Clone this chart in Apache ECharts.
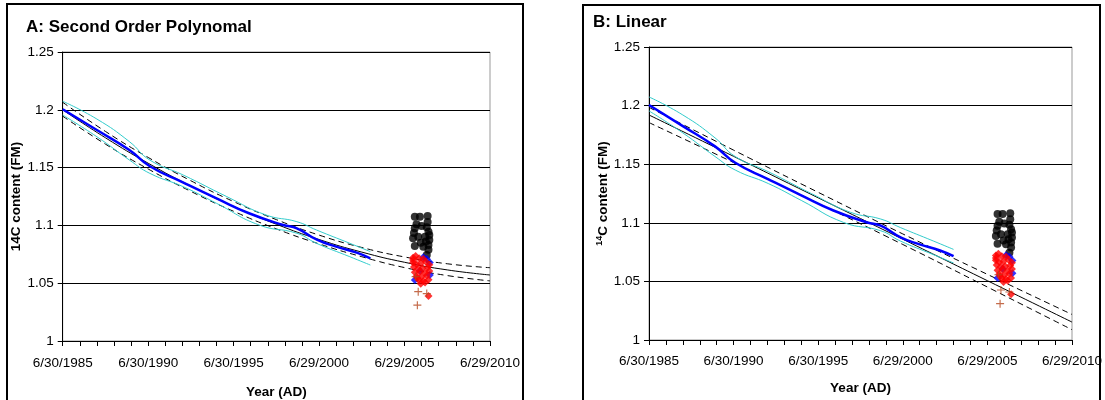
<!DOCTYPE html>
<html>
<head>
<meta charset="utf-8">
<script src="https://cdn.jsdelivr.net/npm/echarts@6/dist/echarts.min.js"></script>
<style>
html,body{margin:0;padding:0;background:#fff;}
#chart{width:1105px;height:400px;}
</style>
</head>
<body>
<div id="chart"></div>
<script>
// ---- tick labels ----
const xTickLabels = ['6/30/1985','6/30/1990','6/30/1995','6/29/2000','6/29/2005','6/29/2010'];
const yTickLabels = ['1','1.05','1.1','1.15','1.2','1.25'];
const X0 = 1985.5; // 6/30/1985 in decimal years

// ---- measured atmospheric record (decimal year, FM) ----
const atmosMean = [[1985.5,1.2005],[1987.5,1.1825],[1989.4,1.1652],[1990.6,1.1512],[1992.5,1.1375],[1994.5,1.1234],[1996.4,1.1105],[1998.4,1.1003],[1999.2,1.0975],[2000.4,1.0874],[2001.5,1.0816],[2002.7,1.0764],[2003.5,1.0715]];
const atmosUpper = [[1985.5,1.2074],[1987.5,1.192],[1989.4,1.1725],[1990.6,1.1565],[1992.55,1.1436],[1995.1,1.1249],[1997.4,1.109],[1999.2,1.1032],[2000.35,1.096],[2002.3,1.0845],[2003.5,1.0773]];
const atmosLower = [[1985.5,1.1955],[1987.5,1.1767],[1989.4,1.1566],[1990.6,1.145],[1992.55,1.1335],[1994.5,1.1191],[1997.0,1.1003],[1999.2,1.0932],[2000.35,1.0845],[2002.3,1.0729],[2003.5,1.0657]];

// ---- panel A: second order polynomial fit ----
const polyYears = [1985.5,1988,1990.5,1993,1995.5,1998,2000.5,2003,2005.5,2008,2010.5];
const polyFit   = [1.2,1.1758,1.1538,1.134,1.1164,1.101,1.0878,1.0769,1.0681,1.0615,1.0571];
const polyUpper = [1.2065,1.1813,1.1588,1.1386,1.1206,1.105,1.0916,1.0809,1.0727,1.0668,1.0634];
const polyLower = [1.1945,1.1703,1.1488,1.1294,1.1122,1.097,1.084,1.0729,1.0635,1.0566,1.052];

// ---- panel B: linear fit ----
const linYears = [1985.5,1990.5,1995.5,2000.5,2005.5,2010.5];
const linFit   = [1.192,1.1567,1.1213,1.086,1.0506,1.0153];
const linUpper = [1.1985,1.162,1.126,1.0905,1.056,1.0218];
const linLower = [1.1855,1.1514,1.1166,1.0815,1.0452,1.0088];

// ---- samples (decimal year, FM) ----
const blackDots = [[2006.1,1.1075],[2006.4,1.1075],[2006.85,1.1081],[2006.1,1.0975],[2006.5,1.0995],[2006.8,1.0983],[2006.9,1.0946],[2006.0,1.0888],[2006.3,1.0902],[2006.7,1.0902],[2006.95,1.0917],[2006.1,1.0822],[2006.6,1.0816],[2006.9,1.0831],[2006.8,1.0744],[2006.95,1.0874],[2006.05,1.0935],[2006.75,1.086],[2006.2,1.101],[2006.85,1.103],[2006.45,1.085],[2006.9,1.079]];
const blueDiamonds = [[2006.1,1.0528],[2006.4,1.0608],[2006.98,1.0678],[2006.6,1.0724],[2006.98,1.057],[2006.8,1.071]];
const redDiamonds = [[2006.0,1.072],[2006.15,1.0735],[2006.35,1.0715],[2006.6,1.071],[2006.0,1.068],[2006.2,1.0665],[2006.45,1.067],[2006.75,1.0685],[2006.95,1.066],[2006.05,1.064],[2006.3,1.0625],[2006.55,1.063],[2006.85,1.0635],[2006.1,1.0595],[2006.4,1.06],[2006.7,1.059],[2006.95,1.0605],[2006.2,1.056],[2006.5,1.0555],[2006.8,1.0565],[2006.35,1.0525],[2006.6,1.052],[2006.9,1.053],[2006.45,1.0495],[2006.7,1.0505],[2006.9,1.039],[2006.25,1.0545],[2006.0,1.07]];
const crosses = [[2006.3,1.0427],[2006.25,1.031],[2006.8,1.041],[2006.15,1.0557]];

const FONT = "'Liberation Sans', Arial, sans-serif";
const shift = arr => arr.map(p => [p[0] - X0, p[1]]);
const zipShift = (xs, ys) => xs.map((x, i) => [x - X0, ys[i]]);

function lineS(g, data, color, width, type, smooth, z) {
  return { type:'line', xAxisIndex:g, yAxisIndex:g, data:data, showSymbol:false, symbol:'none',
    smooth:smooth, lineStyle:{color:color, width:width, type:type}, z:z, silent:true, animation:false };
}
function scatS(g, data, symbol, size, color, z) {
  return { type:'scatter', xAxisIndex:g, yAxisIndex:g, data:shift(data), symbol:symbol, symbolSize:size,
    itemStyle:{color:color}, z:z, silent:true, animation:false };
}
function panelSeries(g, years, fit, up, lo) {
  return [
    lineS(g, zipShift(years, up), '#000', 1, [6,4], true, 2),
    lineS(g, zipShift(years, lo), '#000', 1, [6,4], true, 2),
    lineS(g, zipShift(years, fit), '#000', 1, 'solid', true, 3),
    lineS(g, shift(atmosUpper), '#33cccc', 1, 'solid', 0.5, 4),
    lineS(g, shift(atmosLower), '#33cccc', 1, 'solid', 0.5, 4),
    lineS(g, shift(atmosMean), '#0000ff', 2.5, 'solid', 0.5, 5),
    scatS(g, blackDots, 'circle', 8, '#000', 6),
    scatS(g, blueDiamonds, 'diamond', 8, '#0000ff', 7),
    scatS(g, redDiamonds, 'diamond', 8, '#ff0000', 8),
    scatS(g, crosses, 'path://M3,0H4V3H7V4H4V7H3V4H0V3H3Z', 8, '#b5461e', 9)
  ];
}
function xAx(g, nameGap, margin) {
  return { type:'value', gridIndex:g, min:0, max:25, interval:1,
    axisLine:{show:true, onZero:false, lineStyle:{color:'#000', width:1}},
    axisTick:{show:true, length:5, lineStyle:{color:'#000', width:1}},
    splitLine:{show:false},
    axisLabel:{fontFamily:FONT, fontSize:13.5, color:'#000', margin:margin, hideOverlap:false,
      formatter:v => (Math.round(v) % 5 === 0 ? (xTickLabels[Math.round(v/5)] || '') : '')},
    name:'Year (AD)', nameLocation:'middle', nameGap:nameGap,
    nameTextStyle:{fontFamily:FONT, fontSize:13.5, fontWeight:'bold', color:'#000'} };
}
function yAx(g, name, gap) {
  return { type:'value', gridIndex:g, min:1, max:1.25, interval:0.05,
    axisLine:{show:true, lineStyle:{color:'#000', width:1}},
    axisTick:{show:true, length:5, lineStyle:{color:'#000'}},
    splitLine:{show:true, lineStyle:{color:'#000', width:1}},
    axisLabel:{fontFamily:FONT, fontSize:13.5, color:'#000', margin:9,
      formatter:v => yTickLabels[Math.round((v-1)/0.05)] || ''},
    name:name, nameLocation:'middle', nameRotate:90, nameGap:gap,
    nameTextStyle:{fontFamily:FONT, fontSize:13.5, fontWeight:'bold', color:'#000',
      rich:{sup:{fontFamily:FONT, fontSize:9, fontWeight:'bold', color:'#000', verticalAlign:'top', padding:[0,0,6,0]},
            b:{fontFamily:FONT, fontSize:13.5, fontWeight:'bold', color:'#000'}}} };
}

const chart = echarts.init(document.getElementById('chart'), null, {renderer:'canvas'});
chart.setOption({
  animation:false,
  backgroundColor:'#fff',
  title:[
    {text:'A: Second Order Polynomal', left:26, top:19, padding:0,
      textStyle:{fontFamily:FONT, fontSize:17, fontWeight:'bold', color:'#000'}},
    {text:'B: Linear', left:593, top:14, padding:0,
      textStyle:{fontFamily:FONT, fontSize:17, fontWeight:'bold', color:'#000'}}
  ],
  graphic:[
    {type:'rect', shape:{x:7, y:4, width:516, height:430}, style:{fill:'none', stroke:'#000', lineWidth:2}, z:0},
    {type:'rect', shape:{x:583, y:5, width:517, height:430}, style:{fill:'none', stroke:'#000', lineWidth:2}, z:0}
  ],
  grid:[
    {left:62.7, top:52, width:427.3, height:289, containLabel:false, outerBoundsMode:'none',
      show:true, borderColor:'#999', borderWidth:1, backgroundColor:'transparent'},
    {left:649, top:47, width:423, height:293, containLabel:false, outerBoundsMode:'none',
      show:true, borderColor:'#999', borderWidth:1, backgroundColor:'transparent'}
  ],
  xAxis:[xAx(0, 44, 15), xAx(1, 41, 14)],
  yAxis:[yAx(0, '14C content (FM)', 38), yAx(1, '{sup|14}{b|C content (FM)}', 38)],
  series:[].concat(panelSeries(0, polyYears, polyFit, polyUpper, polyLower),
                   panelSeries(1, linYears, linFit, linUpper, linLower))
});
</script>
</body>
</html>
